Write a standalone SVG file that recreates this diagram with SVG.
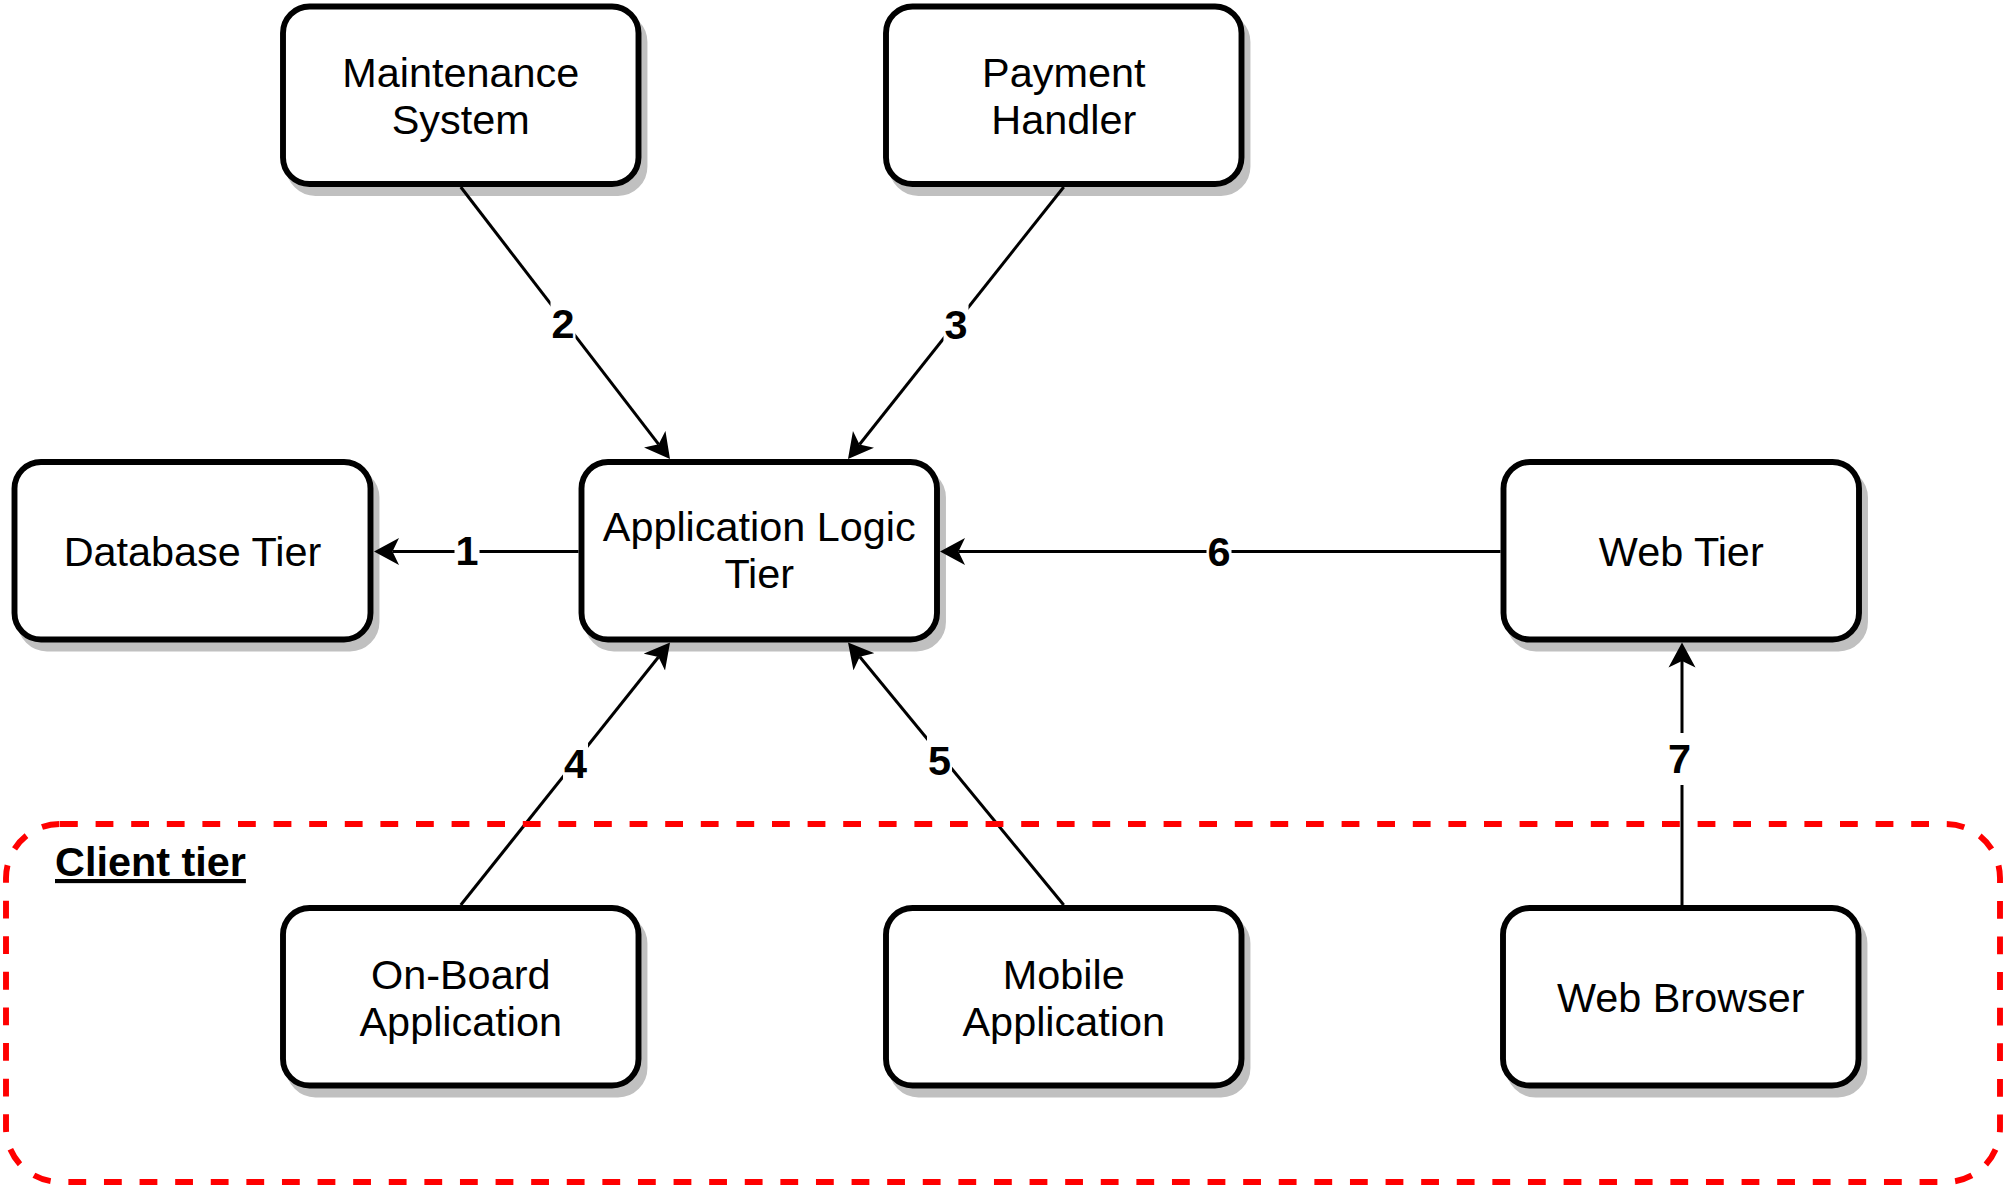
<svg xmlns="http://www.w3.org/2000/svg" width="2005" height="1187" viewBox="0 0 2005 1187">
  <style>
    .box { fill: #ffffff; stroke: #000000; stroke-width: 5.9; }
    .shadow { fill: #c0c0c0; stroke: #c0c0c0; stroke-width: 5.9; }
    .lbl { font-family: "Liberation Sans", Arial, Helvetica, sans-serif; font-size: 41.4px; fill: #000000; text-anchor: middle; }
    .num { font-family: "Liberation Sans", Arial, Helvetica, sans-serif; font-size: 41.4px; font-weight: bold; fill: #000000; text-anchor: middle; }
    .edge { stroke: #000000; stroke-width: 3; fill: none; marker-end: url(#arrow); }
    .bg { fill: #ffffff; }
  </style>
  <defs>
    <marker id="arrow" markerUnits="userSpaceOnUse" viewBox="0 -14 26 28" markerWidth="26" markerHeight="28" refX="6.5" refY="0" orient="auto">
      <path d="M25,0 L0,-13.5 L6.5,0 L0,13.5 Z" fill="#000000"/>
    </marker>
  </defs>
  <rect width="2005" height="1187" fill="#ffffff"/>

  <g id="database-tier">
    <rect class="shadow" x="20.5" y="471" width="356" height="177.5" rx="26.5"/>
    <rect class="box" x="14.5" y="462" width="356" height="177.5" rx="26.5"/>
    <text class="lbl" x="192.5" y="566">Database Tier</text>
  </g>

  <g id="maintenance-system">
    <rect class="shadow" x="289" y="15.5" width="355.5" height="177.5" rx="26.5"/>
    <rect class="box" x="283" y="6.5" width="355.5" height="177.5" rx="26.5"/>
    <text class="lbl" x="460.75" y="87">Maintenance</text>
    <text class="lbl" x="460.75" y="133.5">System</text>
  </g>

  <g id="payment-handler">
    <rect class="shadow" x="892" y="15.5" width="355.5" height="177.5" rx="26.5"/>
    <rect class="box" x="886" y="6.5" width="355.5" height="177.5" rx="26.5"/>
    <text class="lbl" x="1063.75" y="87">Payment</text>
    <text class="lbl" x="1063.75" y="133.5">Handler</text>
  </g>

  <g id="application-logic-tier">
    <rect class="shadow" x="587.5" y="471" width="355.5" height="177.5" rx="26.5"/>
    <rect class="box" x="581.5" y="462" width="355.5" height="177.5" rx="26.5"/>
    <text class="lbl" x="759.25" y="541">Application Logic</text>
    <text class="lbl" x="759.25" y="588">Tier</text>
  </g>

  <g id="web-tier">
    <rect class="shadow" x="1509.5" y="471" width="355.5" height="177.5" rx="26.5"/>
    <rect class="box" x="1503.5" y="462" width="355.5" height="177.5" rx="26.5"/>
    <text class="lbl" x="1681.25" y="566">Web Tier</text>
  </g>

  <g id="on-board-application">
    <rect class="shadow" x="289" y="917" width="355.5" height="177.5" rx="26.5"/>
    <rect class="box" x="283" y="908" width="355.5" height="177.5" rx="26.5"/>
    <text class="lbl" x="460.75" y="989">On-Board</text>
    <text class="lbl" x="460.75" y="1035.5">Application</text>
  </g>

  <g id="mobile-application">
    <rect class="shadow" x="892" y="917" width="355.5" height="177.5" rx="26.5"/>
    <rect class="box" x="886" y="908" width="355.5" height="177.5" rx="26.5"/>
    <text class="lbl" x="1063.75" y="989">Mobile</text>
    <text class="lbl" x="1063.75" y="1035.5">Application</text>
  </g>

  <g id="web-browser">
    <rect class="shadow" x="1509" y="917" width="355.5" height="177.5" rx="26.5"/>
    <rect class="box" x="1503" y="908" width="355.5" height="177.5" rx="26.5"/>
    <text class="lbl" x="1680.75" y="1012">Web Browser</text>
  </g>

  <g id="connectors">
    <line class="edge" x1="578.5" y1="551.5" x2="392.5" y2="551.5"/>
    <line class="edge" x1="460.75" y1="187" x2="658.7" y2="444.3"/>
    <line class="edge" x1="1063.75" y1="187" x2="859.5" y2="444.5"/>
    <line class="edge" x1="460.75" y1="905" x2="658.5" y2="657"/>
    <line class="edge" x1="1063.75" y1="905" x2="859.75" y2="656.8"/>
    <line class="edge" x1="1500.5" y1="551.5" x2="958.5" y2="551.5"/>
    <line class="edge" x1="1682" y1="905" x2="1682" y2="661"/>

    <rect class="bg" x="454.5" y="525" width="25" height="52"/>
    <text class="num" x="467" y="565">1</text>
    <rect class="bg" x="550.5" y="298" width="25" height="52"/>
    <text class="num" x="563" y="338">2</text>
    <rect class="bg" x="943.5" y="298.5" width="25" height="52"/>
    <text class="num" x="956" y="338.5">3</text>
    <rect class="bg" x="563" y="737.5" width="25" height="52"/>
    <text class="num" x="575.5" y="777.5">4</text>
    <rect class="bg" x="927" y="735" width="25" height="52"/>
    <text class="num" x="939.5" y="775">5</text>
    <rect class="bg" x="1206.5" y="525" width="25" height="52"/>
    <text class="num" x="1219" y="566">6</text>
    <rect class="bg" x="1667" y="733" width="25" height="52"/>
    <text class="num" x="1679.5" y="773">7</text>
  </g>

  <g id="client-tier">
    <rect x="6" y="824" width="1994" height="358" rx="54" ry="54" fill="none" stroke="#ff0000" stroke-width="5.9" stroke-dasharray="17.8 17.8"/>
    <text x="55" y="876" font-family="'Liberation Sans', Arial, Helvetica, sans-serif" font-size="41.4" font-weight="bold" text-decoration="underline" fill="#000000">Client tier</text>
  </g>
</svg>
